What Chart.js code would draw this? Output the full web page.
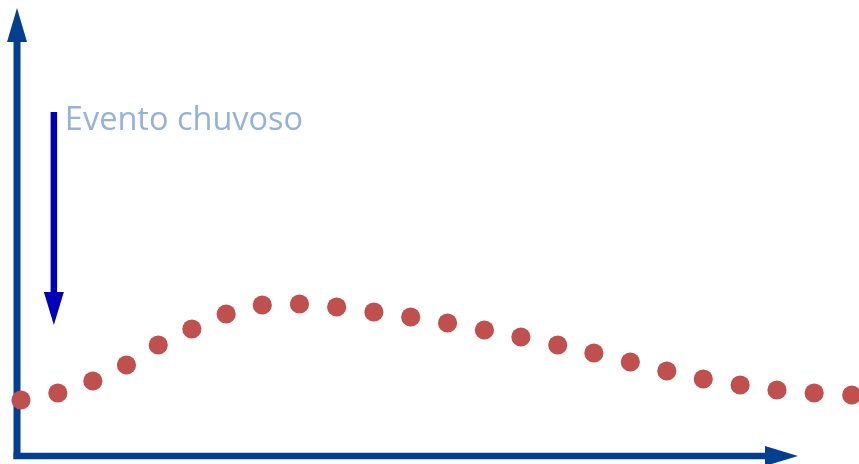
<!DOCTYPE html>
<html>
<head>
<meta charset="utf-8">
<script src="https://cdn.jsdelivr.net/npm/chart.js@4"></script>
<style>
  html, body { margin: 0; padding: 0; background: #fff; }
  #wrap { width: 859px; height: 464px; }
</style>
</head>
<body>
<div id="wrap"><canvas id="hidrograma"></canvas></div>
<script>
// tempo e vazão (pontos ao longo da curva)
const tempos = [0.11, 1.13, 2.10, 3.03, 3.91, 4.84, 5.79, 6.79, 7.82, 8.85, 9.88, 10.90, 11.92, 12.94, 13.95, 14.97, 15.97, 16.98, 17.99, 19.00, 20.02, 21.04, 22.07, 23.11];
const vazoes = [56, 63, 75, 91, 111, 127, 142, 151, 152, 149, 144, 139, 133, 126, 119, 111, 103, 94, 85, 77, 71, 66, 63, 61];
const rotuloEvento = 'Evento chuvoso';

// limites dos eixos
const X_MIN = -0.471, X_MAX = 23.311;
const Y_MIN = -8, Y_MAX = 456;
const ORIGEM_X = 0, ORIGEM_Y = 0;
const CHUVA_X = 1.02, CHUVA_TOPO = 344, CHUVA_FIM = 131;

const corEixo = '#023f8f';
const corChuva = '#0000b8';

function seta(ctx, x1, y1, x2, y2, largura, cabeca, meia, cor) {
    const ang = Math.atan2(y2 - y1, x2 - x1);
    const bx = x2 - Math.cos(ang) * cabeca;
    const by = y2 - Math.sin(ang) * cabeca;
    ctx.strokeStyle = cor;
    ctx.fillStyle = cor;
    ctx.lineWidth = largura;
    ctx.lineCap = 'butt';
    ctx.beginPath();
    ctx.moveTo(x1, y1);
    ctx.lineTo(bx, by);
    ctx.stroke();
    ctx.beginPath();
    ctx.moveTo(x2, y2);
    ctx.lineTo(bx - Math.sin(ang) * meia, by + Math.cos(ang) * meia);
    ctx.lineTo(bx + Math.sin(ang) * meia, by - Math.cos(ang) * meia);
    ctx.closePath();
    ctx.fill();
}

const decoracao = {
    id: 'decoracao',
    beforeDatasetsDraw(chart) {
        const { ctx, scales: { x, y } } = chart;
        const ox = x.getPixelForValue(ORIGEM_X);
        const oy = y.getPixelForValue(ORIGEM_Y);
        ctx.save();
        // eixo vertical
        seta(ctx, ox, oy + 3, ox, 8, 7, 34, 10, corEixo);
        // eixo horizontal
        seta(ctx, ox - 3.5, oy, 798, oy, 6.5, 33, 10, corEixo);
        // seta da chuva
        const cx = x.getPixelForValue(CHUVA_X);
        seta(ctx, cx, y.getPixelForValue(CHUVA_TOPO), cx, y.getPixelForValue(CHUVA_FIM), 6.5, 33, 10, corChuva);
        // texto
        ctx.fillStyle = '#95b3d7';
        ctx.font = '32.5px "Open Sans"';
        ctx.textBaseline = 'alphabetic';
        ctx.textAlign = 'left';
        ctx.fillText(rotuloEvento, cx + 11, y.getPixelForValue(CHUVA_TOPO) + 18);
        ctx.restore();
    }
};

const ctx = document.getElementById('hidrograma').getContext('2d');
new Chart(ctx, {
    type: 'scatter',
    data: {
        datasets: [{
            data: tempos.map((t, i) => ({ x: t, y: vazoes[i] })),
            backgroundColor: '#c0504d',
            borderColor: '#c0504d',
            pointRadius: 9.6,
            pointBorderWidth: 0,
            showLine: false
        }]
    },
    options: {
        responsive: true,
        maintainAspectRatio: false,
        animation: false,
        layout: { padding: 0, autoPadding: false },
        plugins: {
            legend: { display: false },
            tooltip: { enabled: false }
        },
        scales: {
            x: { type: 'linear', min: X_MIN, max: X_MAX, display: false },
            y: { type: 'linear', min: Y_MIN, max: Y_MAX, display: false }
        }
    },
    plugins: [decoracao]
});
</script>
</body>
</html>
